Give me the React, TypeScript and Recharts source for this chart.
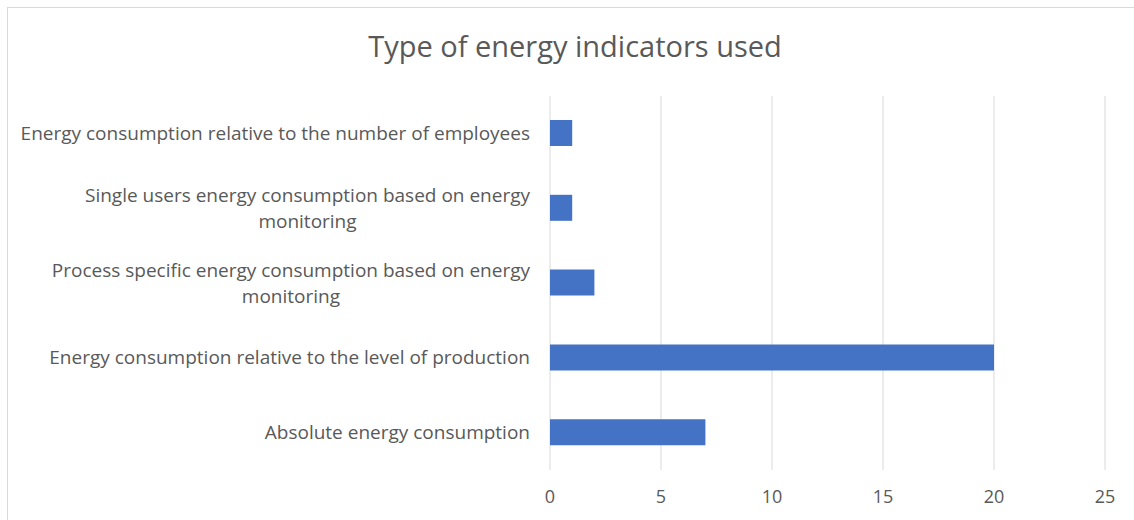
import { BarChart, Bar, XAxis, YAxis, CartesianGrid } from 'recharts';

const categories = [
  'Energy consumption relative to the number of employees',
  'Single users energy consumption based on energy monitoring',
  'Process specific energy consumption based on energy monitoring',
  'Energy consumption relative to the level of production',
  'Absolute energy consumption',
];

// how each label wraps in the original
const labelLines: string[][] = [
  ['Energy consumption relative to the number of employees'],
  ['Single users energy consumption based on energy', 'monitoring'],
  ['Process specific energy consumption based on energy', 'monitoring'],
  ['Energy consumption relative to the level of production'],
  ['Absolute energy consumption'],
];

const counts = [1, 1, 2, 20, 7];
const xTicks = [0, 5, 10, 15, 20, 25];

const FONT = '"Open Sans", sans-serif';
const TEXT = '#595959';
const LABEL_SIZE = 19;

const data = categories.map((name, i) => ({ name, value: counts[i] }));

let ctx: CanvasRenderingContext2D | null = null;
const measure = (s: string) => {
  if (!ctx) {
    ctx = document.createElement('canvas').getContext('2d');
  }
  if (!ctx) return s.length * 9;
  ctx.font = `${LABEL_SIZE}px "Open Sans"`;
  return ctx.measureText(s).width;
};

const CategoryTick = (props: any) => {
  const { y, payload } = props;
  const idx = categories.indexOf(payload.value);
  const lines = labelLines[idx] ?? [payload.value];
  const right = 530;
  const widest = Math.max(...lines.map(measure));
  const cx = right - widest / 2;
  const lh = 26;
  const y0 = y - ((lines.length - 1) * lh) / 2;
  return (
    <g>
      {lines.map((l, i) => (
        <text
          key={i}
          x={cx}
          y={y0 + i * lh}
          dy="0.35em"
          textAnchor="middle"
          fontSize={LABEL_SIZE}
          fontFamily={FONT}
          fill={TEXT}
        >
          {l}
        </text>
      ))}
    </g>
  );
};

export default function App() {
  return (
    <div style={{ position: 'absolute', left: 0, top: 0, width: 1134, height: 520, overflow: 'hidden', background: '#fff' }}>
      <div
        style={{
          position: 'absolute',
          left: 7,
          top: 7,
          width: 1150,
          height: 540,
          border: '1px solid #d9d9d9',
        }}
      />
      <div
        style={{
          position: 'absolute',
          left: 0,
          top: 26,
          width: 1150,
          textAlign: 'center',
          fontFamily: FONT,
          fontSize: 29,
          color: TEXT,
          lineHeight: '40px',
        }}
      >
        Type of energy indicators used
      </div>
      <div style={{ position: 'absolute', left: 0, top: 0 }}>
        <BarChart
          width={1134}
          height={520}
          data={data}
          layout="vertical"
          margin={{ top: 96, right: 29, bottom: 0, left: 0 }}
        >
          <CartesianGrid horizontal={false} stroke="#d9d9d9" strokeWidth={1} />
          <XAxis
            type="number"
            domain={[0, 25]}
            ticks={xTicks}
            height={50}
            axisLine={false}
            tickLine={false}
            tick={{ fontSize: 18, fontFamily: FONT, fill: TEXT }}
            tickMargin={14}
          />
          <YAxis
            type="category"
            dataKey="name"
            width={550}
            axisLine={false}
            tickLine={false}
            tick={<CategoryTick />}
            interval={0}
          />
          <Bar dataKey="value" fill="#4472c4" barSize={26} isAnimationActive={false} />
        </BarChart>
      </div>
    </div>
  );
}
